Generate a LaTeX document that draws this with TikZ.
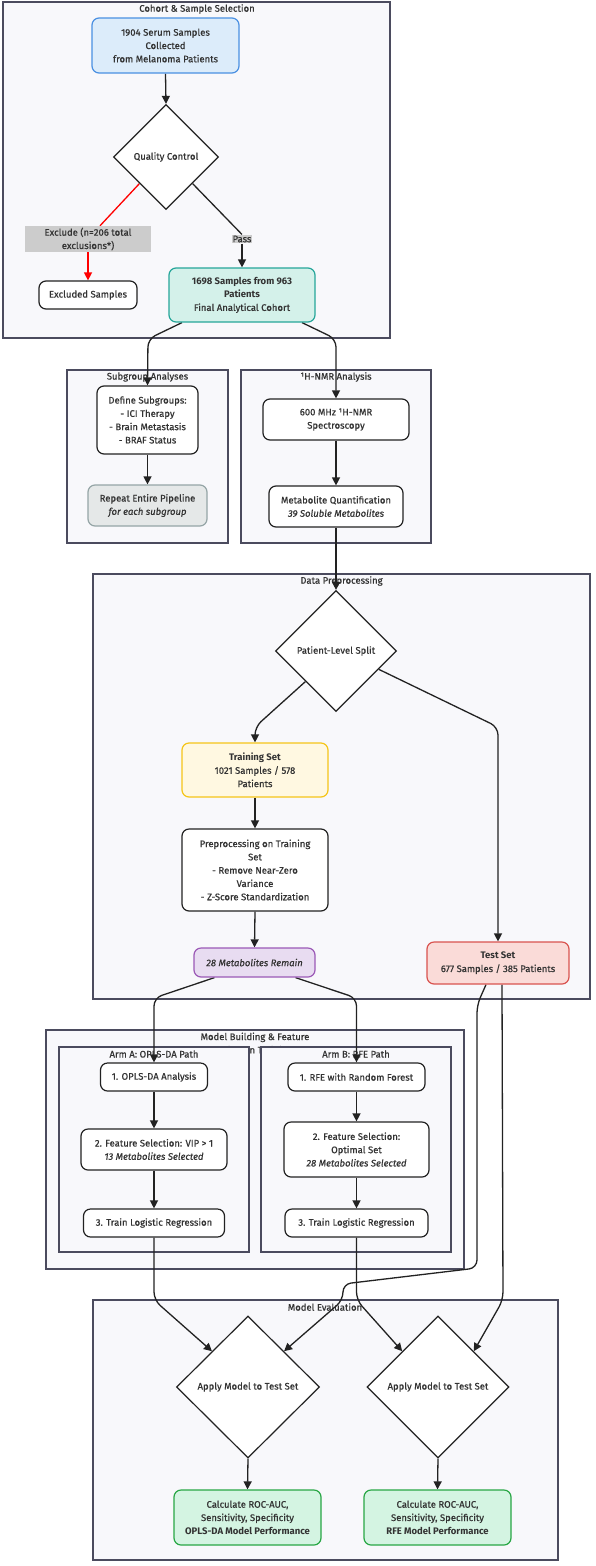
\documentclass[tikz,border=0pt]{standalone}
\usepackage{fontspec}
\setmainfont{Fira Sans}[UprightFeatures={FakeBold=0.6},ItalicFeatures={FakeBold=0.6}]
\usetikzlibrary{shapes.geometric,arrows.meta,calc}
\definecolor{txt}{HTML}{333333}
\definecolor{clfill}{HTML}{F8F8FB}
\definecolor{cldraw}{HTML}{4B4B5E}
\definecolor{blueF}{HTML}{DCECFA}\definecolor{blueD}{HTML}{4A90E2}
\definecolor{tealF}{HTML}{D4F1EA}\definecolor{tealD}{HTML}{26A69A}
\definecolor{yelF}{HTML}{FFF8E1}\definecolor{yelD}{HTML}{F5C518}
\definecolor{purF}{HTML}{E8DCF1}\definecolor{purD}{HTML}{9B59B6}
\definecolor{redF}{HTML}{FADBD8}\definecolor{redD}{HTML}{D9534F}
\definecolor{grnF}{HTML}{D4F4E2}\definecolor{grnD}{HTML}{28A745}
\definecolor{gryF}{HTML}{E5E8E8}\definecolor{gryD}{HTML}{95A5A6}
\definecolor{lblF}{HTML}{CCCCCC}
\definecolor{edge}{HTML}{222222}
\pgfdeclarelayer{bg}\pgfdeclarelayer{edges}
\pgfsetlayers{bg,edges,main}
\begin{document}
\begin{tikzpicture}[x=1pt,y=-1pt,
  every node/.style={font=\fontsize{9.5}{13.3}\selectfont, text=txt},
  box/.style={draw=edge, fill=white, rounded corners=7pt, line width=1.2pt, align=center, inner sep=0pt},
  diam/.style={draw=edge, fill=white, diamond, line width=1.2pt, align=center, inner sep=0pt, aspect=1},
  cluster/.style={draw=cldraw, fill=clfill, line width=1.2pt},
  ctitle/.style={anchor=center},
  lbl/.style={fill=lblF, align=center, inner sep=1pt},
  arr/.style={draw=edge, line width=1.3pt, -{Triangle[length=8pt,width=8pt]}, rounded corners=8pt},
  ln/.style={draw=edge, line width=1.3pt, rounded corners=8pt},
]
\useasboundingbox (0,0) rectangle (596,1566);

% ---------- nodes ----------
\node[box, fill=blueF, draw=blueD, minimum width=147, minimum height=55] (n1) at (165.5,45.5) {1904 Serum Samples\\Collected\\from Melanoma Patients};
\node[diam, minimum width=105, minimum height=105] (qc) at (166,157) {Quality Control};
\node[lbl, minimum width=126, minimum height=26] (excl) at (88,239) {Exclude (n=206 total\\exclusions*)};
\node[box, minimum width=98, minimum height=28] (excluded) at (88,295) {Excluded Samples};
\node[lbl] (pass) at (242,239) {Pass};
\node[box, fill=tealF, draw=tealD, minimum width=146, minimum height=54] (final) at (242,295) {\textbf{1698 Samples from 963}\\\textbf{Patients}\\Final Analytical Cohort};

\node[box, minimum width=101, minimum height=68] (define) at (147.5,420) {Define Subgroups:\\- ICI Therapy\\- Brain Metastasis\\- BRAF Status};
\node[box, fill=gryF, draw=gryD, minimum width=119, minimum height=41] (repeat) at (147.5,505.5) {Repeat Entire Pipeline\\\textit{for each subgroup}};
\node[box, minimum width=146, minimum height=41] (mhz) at (336,419.5) {600 MHz ¹H-NMR\\Spectroscopy};
\node[box, minimum width=134, minimum height=41] (mq) at (336,506.5) {Metabolite Quantification\\\textit{39 Soluble Metabolites}};

\node[diam, minimum width=121, minimum height=121] (split) at (336,651) {Patient-Level Split};
\node[box, fill=yelF, draw=yelD, minimum width=146, minimum height=54] (train) at (255,770) {\textbf{Training Set}\\1021 Samples / 578\\Patients};
\node[box, minimum width=146, minimum height=82] (prep) at (255,870) {Preprocessing on Training\\Set\\- Remove Near-Zero\\Variance\\- Z-Score Standardization};
\node[box, fill=purF, draw=purD, minimum width=121, minimum height=29] (rem) at (254.5,962.5) {\textit{28 Metabolites Remain}};
\node[box, fill=redF, draw=redD, minimum width=142, minimum height=42] (test) at (498,963) {\textbf{Test Set}\\677 Samples / 385 Patients};

\node[box, minimum width=107, minimum height=28] (opls) at (154,1077) {1. OPLS-DA Analysis};
\node[box, minimum width=146, minimum height=41] (vip) at (154,1149.5) {2. Feature Selection: VIP > 1\\\textit{13 Metabolites Selected}};
\node[box, minimum width=141, minimum height=28] (trainA) at (154,1223) {3. Train Logistic Regression};
\node[box, minimum width=137, minimum height=28] (rfe) at (356.5,1077) {1. RFE with Random Forest};
\node[box, minimum width=145, minimum height=55] (opt) at (356.5,1149.5) {2. Feature Selection:\\Optimal Set\\\textit{28 Metabolites Selected}};
\node[box, minimum width=143, minimum height=28] (trainB) at (356.5,1223) {3. Train Logistic Regression};

\node[diam, minimum width=143, minimum height=142] (dA) at (248,1387) {Apply Model to Test Set};
\node[diam, minimum width=142, minimum height=142] (dB) at (438,1387) {Apply Model to Test Set};
\node[box, fill=grnF, draw=grnD, minimum width=147, minimum height=55] (evA) at (247.5,1517.5) {Calculate ROC-AUC,\\Sensitivity, Specificity\\\textbf{OPLS-DA Model Performance}};
\node[box, fill=grnF, draw=grnD, minimum width=147, minimum height=55] (evB) at (437.5,1517.5) {Calculate ROC-AUC,\\Sensitivity, Specificity\\\textbf{RFE Model Performance}};

% ---------- clusters ----------
\begin{pgfonlayer}{bg}
\fill[white] (0,0) rectangle (596,1566);
\draw[cluster] (3,2) rectangle (390,338);
\node[ctitle] (tCohort) at (197,9) {Cohort \& Sample Selection};
\draw[cluster] (67,370) rectangle (228,543);
\node[ctitle] (tSub) at (147.5,377) {Subgroup Analyses};
\draw[cluster] (241,370) rectangle (431,543);
\node[ctitle] (tNmr) at (336,377) {¹H-NMR Analysis};
\draw[cluster] (93,574) rectangle (590,999);
\node[ctitle] (tDp) at (341.5,581) {Data Preprocessing};
\draw[cluster] (46,1030) rectangle (464,1269);
\node[ctitle, align=center] (tMb) at (255,1044) {Model Building \& Feature\\Selection on Training Set};
\draw[cluster] (59,1047) rectangle (249,1252);
\node[ctitle] (tA) at (154,1054) {Arm A: OPLS-DA Path};
\draw[cluster] (261,1047) rectangle (451,1252);
\node[ctitle] (tB) at (356,1054) {Arm B: RFE Path};
\draw[cluster] (93,1300) rectangle (558,1560);
\node[ctitle] (tMe) at (325,1307) {Model Evaluation};
\end{pgfonlayer}

% ---------- edges ----------
\begin{pgfonlayer}{edges}
\draw[arr] (n1.south) -- (qc.north);
\draw[ln, draw=red] ($(qc.west)!0.5!(qc.south)$) -- ([xshift=12]excl.north);
\draw[arr, draw=red] (excl.south) -- (excluded.north);
\draw[ln] ($(qc.south)!0.5!(qc.east)$) -- (pass.north);
\draw[arr] (pass.south) -- (final.north);
\draw[arr] ([xshift=-60]final.south) -- (148,339) -- (define.north);
\draw[arr] ([xshift=60]final.south) -- (336,339) -- (mhz.north);
\draw[arr] (define.south) -- (repeat.north);
\draw[arr] (mhz.south) -- (mq.north);
\draw[arr] (mq.south) -- (split.north);
\draw[arr] ($(split.west)!0.5!(split.south)$) -- (255,727) -- (train.north);
\draw[arr] ($(split.east)!0.3!(split.south)$) -- (498,727) -- (test.north);
\draw[arr] (train.south) -- (prep.north);
\draw[arr] (prep.south) -- (rem.north);
\draw[arr] ([xshift=-40]rem.south) -- (154,998) -- (opls.north);
\draw[arr] ([xshift=41]rem.south) -- (356.5,998) -- (rfe.north);
\draw[arr] (opls.south) -- (vip.north);
\draw[arr] (vip.south) -- (trainA.north);
\draw[arr] (rfe.south) -- (opt.north);
\draw[arr] (opt.south) -- (trainB.north);
\draw[arr] (trainA.south) -- (154,1300) -- ($(dA.north)!0.5!(dA.west)$);
\draw[arr] ([xshift=-12]test.south) -- (477,1005) -- (477,1268) -- (343,1284) -- (343,1300) -- ($(dA.north)!0.5!(dA.east)$);
\draw[arr] (trainB.south) -- (356.5,1300) -- ($(dB.north)!0.5!(dB.west)$);
\draw[arr] ([xshift=4]test.south) -- (503,1300) -- ($(dB.north)!0.5!(dB.east)$);
\draw[arr] (dA.south) -- (evA.north);
\draw[arr] (dB.south) -- (evB.north);
\end{pgfonlayer}
\end{tikzpicture}
\end{document}
